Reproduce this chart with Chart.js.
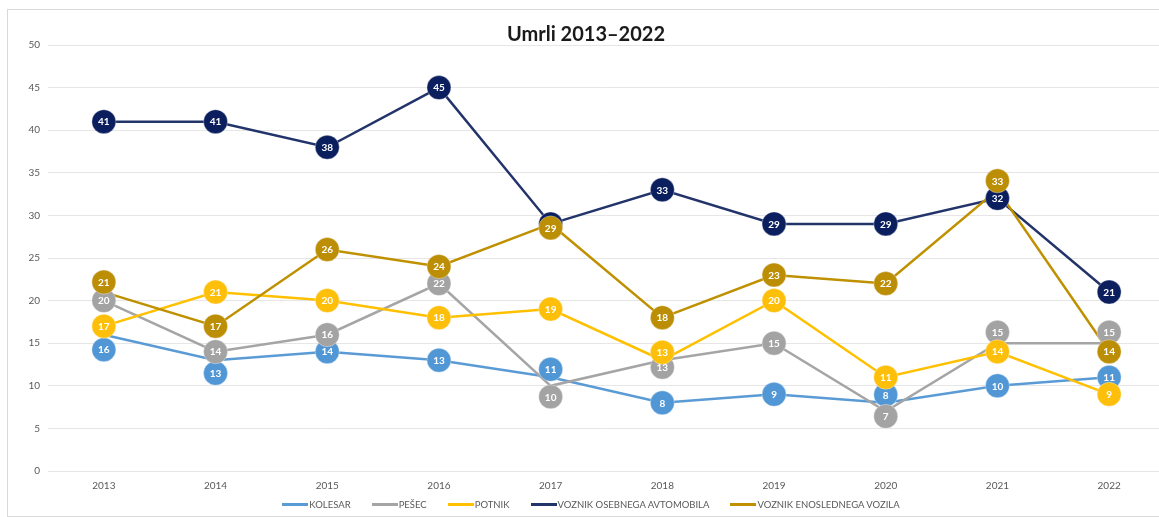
<!DOCTYPE html>
<html lang="sl">
<head>
<meta charset="utf-8">
<title>Umrli 2013–2022</title>
<script src="https://cdn.jsdelivr.net/npm/chart.js@4.4.1/dist/chart.umd.min.js"></script>
<style>
    html, body { margin: 0; padding: 0; background: #ffffff; overflow: hidden; }
    #frame {
        position: absolute; left: 7px; top: 9px; width: 1180px; height: 508px;
        box-sizing: border-box; border: 1px solid #d9d9d9;
    }
    #chart-box { position: absolute; left: 7px; top: 9px; width: 1166px; height: 495px; }
    #legend {
        position: absolute; left: 7px; top: 497px; width: 1168px; height: 14px;
        display: flex; justify-content: center; align-items: center; gap: 21px;
        font-family: Lato, "Open Sans", sans-serif; font-size: 9.5px; color: #595959;
        white-space: nowrap;
    }
    #legend .item { display: flex; align-items: center; }
    #legend .swatch { display: inline-block; width: 26px; height: 3px; margin-right: 1px; }
</style>
</head>
<body>
<div id="frame"></div>
<div id="chart-box"><canvas id="umrliChart"></canvas></div>
<div id="legend"></div>
<script>
// Leta in število umrlih po kategorijah udeležencev
const years = ['2013', '2014', '2015', '2016', '2017', '2018', '2019', '2020', '2021', '2022'];
const kolesar = [16, 13, 14, 13, 11, 8, 9, 8, 10, 11];
const pesec = [20, 14, 16, 22, 10, 13, 15, 7, 15, 15];
const potnik = [17, 21, 20, 18, 19, 13, 20, 11, 14, 9];
const voznikAvtomobila = [41, 41, 38, 45, 29, 33, 29, 29, 32, 21];
const voznikEnoslednega = [21, 17, 26, 24, 29, 18, 23, 22, 33, 14];
const seriesNames = ['KOLESAR', 'PEŠEC', 'POTNIK', 'VOZNIK OSEBNEGA AVTOMOBILA', 'VOZNIK ENOSLEDNEGA VOZILA'];
const yMax = 50;
const yStep = 5;

document.addEventListener('DOMContentLoaded', () => {

    const FONT = 'Lato, "Open Sans", sans-serif';

    // Barve črt in krogov z oznakami
    const lineColors = ['#5b9bd5', '#a5a5a5', '#ffc000', '#22346a', '#bf9000'];
    const circleColors = ['#5197d6', '#a3a3a3', '#fdbf0a', '#0b1f5e', '#bb8e06'];

    // Premik krogov z oznakami (px), kjer se sicer prekrivajo
    const labelShift = [
        [15, 13, 0, 0, -8, 0, 0, -8, 0, 0],
        [0, 0, 0, 0, 11, 7, 0, 5, -11, -11],
        [0, 0, 0, 0, 0, -8, 0, 0, 0, 0],
        [0, 0, 0, 0, 0, 0, 0, 0, 0, 0],
        [-10, 0, 0, 0, 4, 0, 0, 0, -9, 0]
    ];

    // Krogi z vrednostmi nad črtami
    const circleLabels = {
        id: 'circleLabels',
        afterDatasetsDraw(chart) {
            const ctx = chart.ctx;
            ctx.save();
            chart.data.datasets.forEach((ds, i) => {
                const meta = chart.getDatasetMeta(i);
                meta.data.forEach((pt, j) => {
                    const x = pt.x;
                    const y = pt.y + labelShift[i][j];
                    ctx.beginPath();
                    ctx.arc(x, y, 12, 0, Math.PI * 2);
                    ctx.fillStyle = circleColors[i];
                    ctx.fill();
                    ctx.lineWidth = 1;
                    ctx.strokeStyle = 'rgba(255,255,255,0.35)';
                    ctx.stroke();
                    ctx.fillStyle = '#ffffff';
                    ctx.font = 'bold 10px ' + FONT;
                    ctx.textAlign = 'center';
                    ctx.textBaseline = 'middle';
                    ctx.fillText(ds.data[j], x, y + 0.5);
                });
            });
            ctx.restore();
        }
    };

    // Legenda pod grafom (HTML)
    const htmlLegend = {
        id: 'htmlLegend',
        afterUpdate(chart) {
            const box = document.getElementById('legend');
            box.innerHTML = chart.data.datasets.map(ds => `
                <span class="item"><span class="swatch" style="background:${ds.borderColor}"></span>${ds.label}</span>
            `).join('');
        }
    };

    const values = [kolesar, pesec, potnik, voznikAvtomobila, voznikEnoslednega];

    const datasets = values.map((data, i) => ({
        label: seriesNames[i],
        data: data,
        borderColor: lineColors[i],
        backgroundColor: lineColors[i],
        borderWidth: 2.5,
        pointRadius: 0,
        pointHoverRadius: 0,
        tension: 0,
        order: values.length - i
    }));

    const ctx = document.getElementById('umrliChart').getContext('2d');

    new Chart(ctx, {
        type: 'line',
        data: { labels: years, datasets: datasets },
        options: {
            responsive: true,
            maintainAspectRatio: false,
            animation: false,
            layout: { padding: { top: 12, right: 8, bottom: 3, left: 0 } },
            plugins: {
                title: {
                    display: true,
                    text: 'Umrli 2013–2022',
                    color: '#1a1a1a',
                    font: { family: FONT, size: 20, weight: 'bold' },
                    padding: { top: 2, bottom: -2 }
                },
                legend: { display: false },
                tooltip: { enabled: false }
            },
            scales: {
                x: {
                    offset: true,
                    grid: { display: false, drawTicks: false },
                    border: { display: false },
                    ticks: { color: '#595959', font: { family: FONT, size: 10 }, padding: 9 }
                },
                y: {
                    min: 0,
                    max: yMax,
                    afterFit: (axis) => { axis.width = 41; },
                    grid: { color: '#e6e6e6', lineWidth: 1, drawTicks: false },
                    border: { display: false },
                    ticks: { stepSize: yStep, color: '#595959', font: { family: FONT, size: 10 }, padding: 8 }
                }
            }
        },
        plugins: [circleLabels, htmlLegend]
    });
});
</script>
</body>
</html>
